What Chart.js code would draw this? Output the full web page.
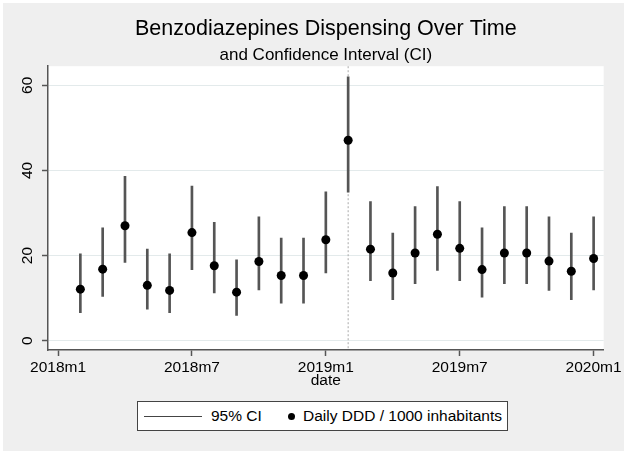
<!DOCTYPE html>
<html><head><meta charset="utf-8">
<script src="https://cdn.jsdelivr.net/npm/chart.js@4.4.1/dist/chart.umd.min.js"></script>
<style>
html,body{margin:0;padding:0;background:#fff;}
#wrap{position:relative;width:624px;height:455px;}
canvas{position:absolute;left:0;top:0;}
#legend{position:absolute;left:137px;top:401px;width:371px;height:30px;background:#fff;border:1px solid #444;box-sizing:border-box;font-family:"Liberation Sans",Arial,sans-serif;font-size:15.5px;color:#000;line-height:28px;}
#legend span{position:absolute;top:0;white-space:nowrap;}
#legend .ln{position:absolute;left:6px;top:14px;width:58px;height:1px;background:#444;}
#legend .dot{position:absolute;left:150px;top:11px;width:7px;height:7px;border-radius:50%;background:#000;}
</style></head>
<body><div id="wrap"><canvas id="c" width="624" height="455"></canvas>
<div id="legend"><div class="ln"></div><span style="left:73px">95% CI</span><div class="dot"></div><span style="left:165px">Daily DDD / 1000 inhabitants</span></div></div>
<script>
// ---- data ----
const months = ['2018m2','2018m3','2018m4','2018m5','2018m6','2018m7','2018m8','2018m9','2018m10','2018m11','2018m12','2019m1',
                '2019m2','2019m3','2019m4','2019m5','2019m6','2019m7','2019m8','2019m9','2019m10','2019m11','2019m12','2020m1'];
const ddd    = [12.1,16.8,27.0,13.0,11.8,25.4,17.6,11.4,18.6,15.3,15.3,23.7,47.1,21.5,15.9,20.6,25.0,21.7,16.7,20.6,20.6,18.7,16.3,19.3];
const ciLow  = [6.6,10.4,18.4,7.4,6.6,16.7,11.2,5.9,11.9,8.8,8.8,15.9,34.9,14.1,9.6,13.4,16.5,14.1,10.2,13.4,13.4,11.8,9.6,11.9];
const ciHigh = [20.4,26.5,38.6,21.5,20.4,36.3,27.8,19.0,29.1,24.1,24.1,35.0,62.0,32.7,25.3,31.5,36.2,32.7,26.5,31.5,31.5,29.1,25.3,29.1];
const xTickLabels = ['2018m1','2018m7','2019m1','2019m7','2020m1'];
const yTicks = [0,20,40,60];
const interventionMonth = '2019m2';

const monthIndex = s => { const p = s.split('m'); return (parseInt(p[0]) - 2018) * 12 + parseInt(p[1]) - 1; };
const xs = months.map(monthIndex);
const xTickPos = xTickLabels.map(monthIndex);

Chart.defaults.font.family = '"Liberation Sans", Arial, sans-serif';
Chart.defaults.color = '#000';

const bgPlugin = {
  id: 'bg',
  beforeDraw(chart) {
    const c = chart.ctx, a = chart.chartArea;
    c.save();
    c.fillStyle = '#fff'; c.fillRect(0, 0, chart.width, chart.height);
    c.fillStyle = '#efefef'; c.fillRect(3, 3, chart.width - 3, 448);
    c.fillStyle = '#fff'; c.fillRect(a.left, a.top, a.right - a.left, a.bottom - a.top);
    c.restore();
  }
};
const refLine = {
  id: 'refLine',
  beforeDatasetsDraw(chart) {
    const c = chart.ctx, a = chart.chartArea;
    const x = chart.scales.x.getPixelForValue(monthIndex(interventionMonth));
    c.save();
    c.strokeStyle = '#aaa'; c.lineWidth = 1; c.setLineDash([2, 2]);
    c.beginPath(); c.moveTo(x, a.top); c.lineTo(x, a.bottom); c.stroke();
    c.restore();
  }
};

new Chart(document.getElementById('c'), {
  type: 'scatter',
  data: { datasets: [
    { type: 'scatter', label: 'Daily DDD / 1000 inhabitants', data: xs.map((x, i) => ({x: x, y: ddd[i]})),
      pointRadius: 4.5, pointBackgroundColor: '#000', pointBorderWidth: 0, order: 0 },
    { type: 'bar', label: '95% CI', data: xs.map((x, i) => ({x: x, y: [ciLow[i], ciHigh[i]]})),
      backgroundColor: '#555', barThickness: 2, borderWidth: 0, grouped: false, order: 1 }
  ]},
  options: {
    responsive: false, animation: false, devicePixelRatio: 1,
    layout: { padding: { top: 2, left: 0, right: 19, bottom: 65 } },
    plugins: {
      legend: { display: false }, tooltip: { enabled: false },
      title: { display: true, fullSize: false, text: 'Benzodiazepines Dispensing Over Time', color: '#000',
               font: { size: 21.5, weight: 'normal' }, padding: { top: 14, bottom: 3 } },
      subtitle: { display: true, fullSize: false, text: 'and Confidence Interval (CI)', color: '#000',
               font: { size: 17, weight: 'normal' }, padding: { top: 0, bottom: 1 } }
    },
    scales: {
      x: { type: 'linear', min: -0.45, max: 24.45, offset: false,
           afterBuildTicks: s => { s.ticks = xTickPos.map(v => ({value: v})); },
           ticks: { callback: (v, i) => xTickLabels[i], font: { size: 15.5 }, padding: 2, maxRotation: 0, autoSkip: false },
           grid: { display: true, drawOnChartArea: false, offset: false, tickLength: 6, tickColor: '#555', tickWidth: 1.5 },
           border: { color: '#555', width: 1.5 },
           title: { display: true, text: 'date', font: { size: 15.5 }, padding: 0 },
           afterFit: s => { s.height = 40; } },
      y: { type: 'linear', min: -2.2, max: 64.5,
           afterBuildTicks: s => { s.ticks = yTicks.map(v => ({value: v})); },
           ticks: { minRotation: 90, maxRotation: 90, crossAlign: 'center', padding: 6, font: { size: 15.5 } },
           grid: { color: '#e3eaeb', tickColor: '#555', tickLength: 6, lineWidth: 1, tickWidth: 1.5 },
           border: { color: '#555', width: 1.5 },
           afterFit: s => { s.width = 48; } }
    }
  },
  plugins: [bgPlugin, refLine]
});
</script></body></html>
